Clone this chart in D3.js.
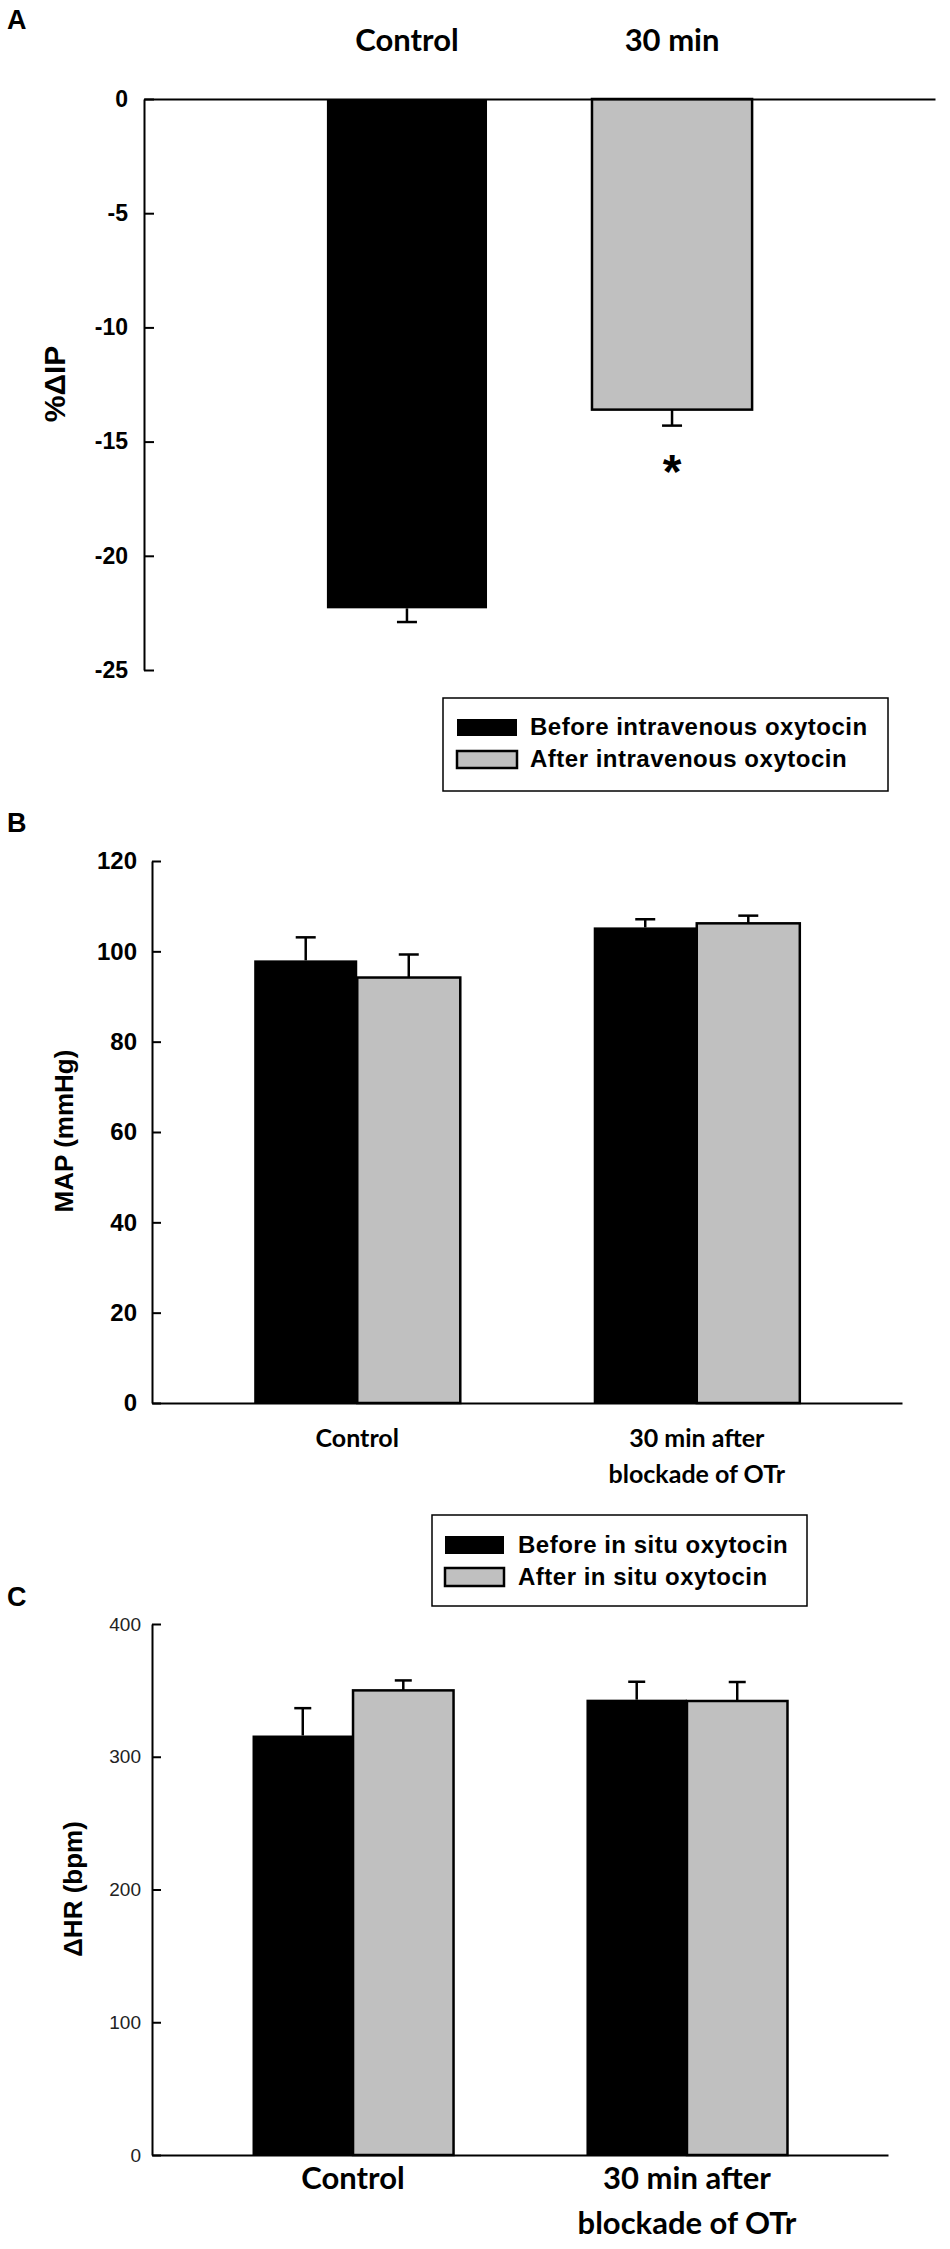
<!DOCTYPE html>
<html>
<head>
<meta charset="utf-8">
<title>Oxytocin bar charts</title>
<script src="https://d3js.org/d3.v7.min.js"></script>
<style>
  body { margin: 0; background: #fff; }
  .arial { font-family: "Liberation Sans", Arial, sans-serif; }
  .cal { font-family: Lato, "Liberation Sans", sans-serif; font-weight: bold; }
</style>
</head>
<body>
<script>
// ---- panel A data
var catsA = ["Control", "30 min"];
var ipMean = [-22.3, -13.6];
var ipSem = [0.6, 0.7];
var ticksA = [0, -5, -10, -15, -20, -25];
var legendA = ["Before intravenous oxytocin", "After intravenous oxytocin"];

// ---- panels B and C data
var catsBC = ["Control", "30 min after|blockade of OTr"];
var mapBefore = [98.0, 105.3], mapBeforeSem = [5.1, 1.8];
var mapAfter = [94.2, 106.2], mapAfterSem = [5.1, 1.7];
var ticksB = [0, 20, 40, 60, 80, 100, 120];

var hrBefore = [316, 343], hrBeforeSem = [20.6, 13.5];
var hrAfter = [350, 342], hrAfterSem = [7.5, 14.3];
var ticksC = [0, 100, 200, 300, 400];
var legendBC = ["Before in situ oxytocin", "After in situ oxytocin"];

var fills = ["#000000", "#c0c0c0"];

var width = 950, height = 2249;

var svg = d3.select("body").append("svg")
  .attr("width", width)
  .attr("height", height);

svg.append("rect").attr("width", width).attr("height", height).attr("fill", "#fff");

// plain hyphen for negatives, like the original figure
function plain(d) { return String(d); }

function styleAxis(g, size, weight, color) {
  g.attr("font-family", null).attr("font-size", null);
  g.selectAll("path, line").attr("stroke", "#000").attr("stroke-width", 2);
  g.selectAll("text").attr("class", "arial")
    .style("font-size", size + "px")
    .style("font-weight", weight)
    .attr("fill", color);
}

// category labels, "|" splits into lines
function catLabels(g, size, first, gap) {
  g.attr("font-family", null).attr("font-size", null);
  g.selectAll(".tick text").each(function(d) {
    var t = d3.select(this).text("").attr("class", "cal").attr("dy", null)
      .attr("y", first).attr("fill", "#000").style("font-size", size + "px");
    d.split("|").forEach(function(line, i) {
      t.append("tspan").attr("x", 0).attr("y", first + i * gap).text(line);
    });
  });
  g.selectAll("path").attr("stroke", "#000").attr("stroke-width", 2);
}

function panelLetter(txt, y) {
  svg.append("text").attr("class", "arial").attr("x", 7).attr("y", y)
    .style("font-size", "27px").style("font-weight", "bold").text(txt);
}

function yTitle(txt, x, y, size) {
  svg.append("text").attr("class", "arial")
    .attr("transform", "translate(" + x + "," + y + ") rotate(-90)")
    .attr("text-anchor", "middle")
    .style("font-size", size + "px").style("font-weight", "bold")
    .text(txt);
}

function legend(items, x, y, w, h, sx, sw, sh, tx, rowGap) {
  var g = svg.append("g");
  g.append("rect").attr("x", x).attr("y", y).attr("width", w).attr("height", h)
    .attr("fill", "#fff").attr("stroke", "#000").attr("stroke-width", 1.5);
  items.forEach(function(label, i) {
    var ry = y + 21 + i * rowGap;
    g.append("rect").attr("x", sx).attr("y", ry).attr("width", sw).attr("height", sh)
      .attr("fill", fills[i]).attr("stroke", "#000").attr("stroke-width", i ? 2.5 : 0);
    g.append("text").attr("class", "arial").attr("x", tx).attr("y", ry + sh - 1)
      .style("font-size", "24px").style("font-weight", "bold")
      .style("letter-spacing", "0.5px").text(label);
  });
}

// ================= Panel A =================
panelLetter("A", 29);

var xA = d3.scaleBand().domain(catsA).range([144, 935])
  .paddingInner(0.396).paddingOuter(0.69);
var yA = d3.scaleLinear().domain([-25, 0]).range([670, 99]);

var gA = svg.append("g");

gA.selectAll("rect.bar").data(ipMean).enter().append("rect")
  .attr("class", "bar")
  .attr("x", function(d, i) { return xA(catsA[i]); })
  .attr("width", xA.bandwidth())
  .attr("y", yA(0))
  .attr("height", function(d) { return yA(d) - yA(0); })
  .attr("fill", function(d, i) { return fills[i]; })
  .attr("stroke", function(d, i) { return i ? "#000" : "none"; })
  .attr("stroke-width", 2.5);

var errA = gA.selectAll("g.err").data(ipMean).enter().append("g").attr("class", "err");
errA.append("line")
  .attr("x1", function(d, i) { return xA(catsA[i]) + xA.bandwidth() / 2; })
  .attr("x2", function(d, i) { return xA(catsA[i]) + xA.bandwidth() / 2; })
  .attr("y1", function(d) { return yA(d); })
  .attr("y2", function(d, i) { return yA(d - ipSem[i]); });
errA.append("line")
  .attr("x1", function(d, i) { return xA(catsA[i]) + xA.bandwidth() / 2 - 10; })
  .attr("x2", function(d, i) { return xA(catsA[i]) + xA.bandwidth() / 2 + 10; })
  .attr("y1", function(d, i) { return yA(d - ipSem[i]); })
  .attr("y2", function(d, i) { return yA(d - ipSem[i]); });
errA.selectAll("line").attr("stroke", "#000").attr("stroke-width", 2.5);

// significance star under the 30 min bar
gA.append("text").attr("class", "arial")
  .attr("x", xA(catsA[1]) + xA.bandwidth() / 2)
  .attr("y", yA(ipMean[1] - ipSem[1]) + 62)
  .attr("text-anchor", "middle")
  .style("font-size", "48px").style("font-weight", "bold")
  .text("*");

gA.append("g").attr("transform", "translate(144,0)")
  .call(d3.axisLeft(yA).tickValues(ticksA).tickFormat(plain)
    .tickSizeInner(-10).tickSizeOuter(0).tickPadding(16))
  .call(styleAxis, 23, "bold", "#000");

gA.append("g").attr("transform", "translate(0," + yA(0) + ")")
  .call(d3.axisTop(xA).tickSize(0).tickSizeOuter(0))
  .call(catLabels, 31, -48, 0);

yTitle("%\u0394IP", 65, 384, 30);

legend(legendA, 443, 698, 445, 93, 457, 60, 17, 530, 32);

// ================= Panel B =================
panelLetter("B", 832);

var xB = d3.scaleBand().domain(catsBC).range([152, 902])
  .paddingInner(0.393).paddingOuter(0.301);
var subB = d3.scaleBand().domain([0, 1]).range([0, xB.bandwidth()]);
var yB = d3.scaleLinear().domain([0, 120]).range([1403, 861]);

var rowsB = [];
catsBC.forEach(function(c, i) {
  rowsB.push({ cat: c, s: 0, v: mapBefore[i], e: mapBeforeSem[i] });
  rowsB.push({ cat: c, s: 1, v: mapAfter[i], e: mapAfterSem[i] });
});

function groupedBars(g, rows, x, sub, y, capW) {
  g.selectAll("rect.bar").data(rows).enter().append("rect")
    .attr("class", "bar")
    .attr("x", function(d) { return x(d.cat) + sub(d.s); })
    .attr("width", sub.bandwidth())
    .attr("y", function(d) { return y(d.v); })
    .attr("height", function(d) { return y(0) - y(d.v); })
    .attr("fill", function(d) { return fills[d.s]; })
    .attr("stroke", function(d) { return d.s ? "#000" : "none"; })
    .attr("stroke-width", 2.5);

  var err = g.selectAll("g.err").data(rows).enter().append("g").attr("class", "err");
  function cx(d) { return x(d.cat) + sub(d.s) + sub.bandwidth() / 2; }
  err.append("line")
    .attr("x1", cx).attr("x2", cx)
    .attr("y1", function(d) { return y(d.v); })
    .attr("y2", function(d) { return y(d.v + d.e); });
  err.append("line")
    .attr("x1", function(d) { return cx(d) - capW / 2; })
    .attr("x2", function(d) { return cx(d) + capW / 2; })
    .attr("y1", function(d) { return y(d.v + d.e); })
    .attr("y2", function(d) { return y(d.v + d.e); });
  err.selectAll("line").attr("stroke", "#000").attr("stroke-width", 2.5);
}

var gB = svg.append("g");
groupedBars(gB, rowsB, xB, subB, yB, 20);

gB.append("g").attr("transform", "translate(152,0)")
  .call(d3.axisLeft(yB).tickValues(ticksB).tickFormat(plain)
    .tickSizeInner(-9).tickSizeOuter(0).tickPadding(15))
  .call(styleAxis, 24, "bold", "#000");

gB.append("g").attr("transform", "translate(0," + yB(0) + ")")
  .call(d3.axisBottom(xB).tickSize(0).tickSizeOuter(0))
  .call(catLabels, 25, 44, 36);

yTitle("MAP (mmHg)", 73, 1131, 26);

legend(legendBC, 432, 1515, 375, 91, 445, 59, 18, 518, 32);

// ================= Panel C =================
panelLetter("C", 1606);

var xC = d3.scaleBand().domain(catsBC).range([152, 888])
  .paddingInner(0.398).paddingOuter(0.301);
var subC = d3.scaleBand().domain([0, 1]).range([0, xC.bandwidth()]);
var yC = d3.scaleLinear().domain([0, 400]).range([2155, 1624]);

var rowsC = [];
catsBC.forEach(function(c, i) {
  rowsC.push({ cat: c, s: 0, v: hrBefore[i], e: hrBeforeSem[i] });
  rowsC.push({ cat: c, s: 1, v: hrAfter[i], e: hrAfterSem[i] });
});

var gC = svg.append("g");
groupedBars(gC, rowsC, xC, subC, yC, 17);

gC.append("g").attr("transform", "translate(152,0)")
  .call(d3.axisLeft(yC).tickValues(ticksC).tickFormat(plain)
    .tickSizeInner(-9).tickSizeOuter(0).tickPadding(11))
  .call(styleAxis, 19, "normal", "#222");

gC.append("g").attr("transform", "translate(0," + yC(0) + ")")
  .call(d3.axisBottom(xC).tickSize(0).tickSizeOuter(0))
  .call(catLabels, 31, 34, 45);

yTitle("\u0394HR (bpm)", 82, 1889, 26);
</script>
</body>
</html>
